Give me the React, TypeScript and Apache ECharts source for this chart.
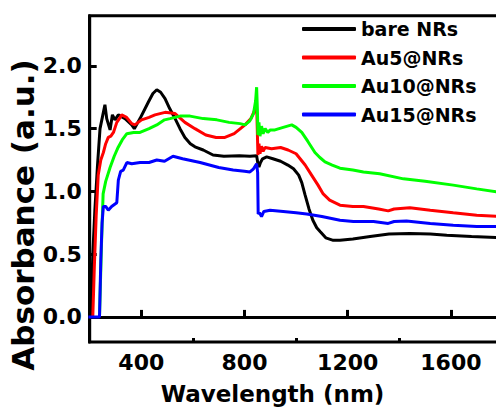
import React, { useEffect, useRef } from "react";
import * as echarts from "echarts";

const seriesNames = ["bare NRs", "Au5@NRs", "Au10@NRs", "Au15@NRs"];
const seriesColors = ["#000000", "#ff0000", "#00ff00", "#0000ff"];

const bareNRs: [number, number][] = [
  [205, 0.0], [212, 0.5], [220, 0.85], [230, 1.2], [240, 1.5], [250, 1.6], [259, 1.69], [266, 1.58],
  [279, 1.49], [288, 1.61], [298, 1.57], [311, 1.61], [337, 1.58], [363, 1.53], [373, 1.5], [395, 1.58],
  [427, 1.71], [445, 1.78], [460, 1.81], [475, 1.79], [492, 1.74], [510, 1.66], [531, 1.58], [550, 1.5],
  [569, 1.43], [590, 1.38], [608, 1.355], [640, 1.33], [678, 1.29], [720, 1.28], [780, 1.285], [821, 1.28],
  [847, 1.285], [852, 1.22], [856, 1.195], [862, 1.23], [870, 1.26], [886, 1.275], [910, 1.26], [940, 1.24],
  [968, 1.21], [990, 1.18], [1010, 1.13], [1022, 1.07], [1035, 0.97], [1050, 0.86], [1065, 0.77], [1080, 0.71],
  [1093, 0.68], [1115, 0.63], [1144, 0.61], [1170, 0.61], [1220, 0.62], [1287, 0.64], [1360, 0.66], [1441, 0.665],
  [1520, 0.66], [1584, 0.65], [1680, 0.64], [1800, 0.63],
];

const au5NRs: [number, number][] = [
  [212, 0.0], [218, 0.4], [225, 0.8], [233, 1.13], [243, 1.25], [253, 1.31], [262, 1.38], [272, 1.43],
  [282, 1.44], [292, 1.47], [305, 1.55], [315, 1.58], [324, 1.61], [343, 1.59], [363, 1.54], [375, 1.53],
  [401, 1.57], [430, 1.59], [453, 1.61], [492, 1.63], [531, 1.62], [569, 1.55], [608, 1.5], [650, 1.45],
  [690, 1.43], [724, 1.43], [760, 1.46], [802, 1.53], [825, 1.58], [840, 1.65], [848, 1.62], [852, 1.29],
  [856, 1.38], [860, 1.3], [866, 1.36], [872, 1.32], [880, 1.35], [905, 1.34], [940, 1.35], [969, 1.33],
  [1000, 1.3], [1035, 1.21], [1060, 1.13], [1085, 1.05], [1105, 0.98], [1130, 0.93], [1170, 0.89], [1220, 0.88],
  [1261, 0.88], [1320, 0.86], [1357, 0.845], [1380, 0.86], [1441, 0.87], [1520, 0.85], [1609, 0.83], [1700, 0.81],
  [1800, 0.8],
];

const au10NRs: [number, number][] = [
  [238, 0.0], [242, 0.3], [246, 0.6], [252, 0.98], [262, 1.08], [279, 1.19], [295, 1.28], [310, 1.35],
  [326, 1.41], [344, 1.46], [370, 1.47], [395, 1.47], [430, 1.5], [460, 1.53], [490, 1.57], [511, 1.58],
  [550, 1.6], [589, 1.6], [640, 1.58], [693, 1.57], [740, 1.55], [783, 1.54], [802, 1.53], [820, 1.56],
  [835, 1.62], [843, 1.72], [847, 1.83], [850, 1.65], [852, 1.45], [856, 1.55], [860, 1.44], [866, 1.52],
  [872, 1.46], [880, 1.5], [890, 1.47], [900, 1.49], [918, 1.49], [950, 1.51], [983, 1.53], [1000, 1.51],
  [1022, 1.47], [1045, 1.4], [1073, 1.31], [1092, 1.27], [1112, 1.235], [1140, 1.21], [1170, 1.185], [1220, 1.17],
  [1261, 1.155], [1324, 1.14], [1416, 1.1], [1500, 1.08], [1609, 1.05], [1700, 1.02], [1800, 0.99],
];

const au15NRs: [number, number][] = [
  [195, 0.0], [238, 0.0], [243, 0.45], [248, 0.75], [253, 0.88], [262, 0.88], [272, 0.85], [285, 0.88],
  [305, 0.91], [311, 1.09], [320, 1.16], [330, 1.17], [344, 1.23], [363, 1.22], [395, 1.23], [430, 1.23],
  [460, 1.25], [490, 1.24], [523, 1.28], [560, 1.26], [628, 1.23], [700, 1.19], [756, 1.17], [800, 1.16],
  [821, 1.155], [835, 1.18], [847, 1.22], [851, 1.15], [853, 0.82], [858, 0.83], [866, 0.8], [875, 0.84],
  [899, 0.85], [950, 0.84], [1000, 0.83], [1041, 0.82], [1100, 0.8], [1170, 0.77], [1222, 0.76], [1300, 0.76],
  [1357, 0.745], [1380, 0.76], [1428, 0.765], [1520, 0.745], [1609, 0.73], [1700, 0.72], [1800, 0.72],
];

const xMajorTicks = [400, 800, 1200, 1600];
const xMinorTicks = [600, 1000, 1400];
const yTicks = [0, 0.5, 1.0, 1.5, 2.0];

const xTitle = "Wavelength (nm)";
const yTitle = "Absorbance (a.u.)";

const FONT = "DejaVu Sans";

export default function App() {
  const ref = useRef<HTMLDivElement>(null);
  useEffect(() => {
    if (!ref.current) return;
    const chart = echarts.init(ref.current, null, { renderer: "svg" });
    const allData = [bareNRs, au5NRs, au10NRs, au15NRs];
    chart.setOption({
      animation: false,
      backgroundColor: "#ffffff",
      grid: {
        left: 89.7,
        right: 17.5,
        top: 15.7,
        bottom: 68,
        show: true,
        borderColor: "#000",
        borderWidth: 3,
        backgroundColor: "transparent",
      },
      legend: {
        data: seriesNames,
        orient: "vertical",
        left: 302,
        top: 19,
        padding: 0,
        itemWidth: 54,
        itemHeight: 4,
        itemGap: 8.5,
        icon: "roundRect",
        textStyle: {
          fontFamily: FONT,
          fontWeight: "bold",
          fontSize: 19,
          color: "#000",
          lineHeight: 20,
        },
      },
      xAxis: [
        {
          type: "value",
          min: 200,
          max: 1800,
          axisLine: { show: true, lineStyle: { color: "#000", width: 3 } },
          axisTick: {
            show: true,
            inside: true,
            length: 7,
            customValues: xMajorTicks,
            lineStyle: { color: "#000", width: 3 },
          },
          axisLabel: {
            customValues: xMajorTicks,
            formatter: (v: number) => String(v),
            margin: 9,
            fontFamily: FONT,
            fontWeight: "bold",
            fontSize: 22,
            color: "#000",
          },
          splitLine: { show: false },
        },
        {
          type: "value",
          min: 200,
          max: 1800,
          position: "bottom",
          axisLine: { show: false },
          axisTick: {
            show: true,
            inside: true,
            length: 4,
            customValues: xMinorTicks,
            lineStyle: { color: "#000", width: 3 },
          },
          axisLabel: { show: false },
          splitLine: { show: false },
        },
      ],
      yAxis: {
        type: "value",
        min: -0.2,
        max: 2.4,
        axisLine: { show: true, lineStyle: { color: "#000", width: 3 } },
        axisTick: {
          show: true,
          inside: true,
          length: 7,
          customValues: yTicks,
          lineStyle: { color: "#000", width: 3 },
        },
        axisLabel: {
          customValues: yTicks,
          margin: 8,
          formatter: (v: number) => v.toFixed(1),
          fontFamily: FONT,
          fontWeight: "bold",
          fontSize: 22,
          color: "#000",
        },
        splitLine: { show: false },
      },
      graphic: [
        {
          type: "text",
          x: 272.5,
          y: 394,
          style: {
            text: xTitle,
            fontFamily: FONT,
            fontWeight: "bold",
            fontSize: 23,
            fill: "#000",
            align: "center",
            verticalAlign: "middle",
          },
        },
        {
          type: "text",
          x: 22.5,
          y: 215,
          rotation: Math.PI / 2,
          style: {
            text: yTitle,
            fontFamily: FONT,
            fontWeight: "bold",
            fontSize: 31,
            fill: "#000",
            align: "center",
            verticalAlign: "middle",
          },
        },
      ],
      series: allData.map((d, i) => ({
        name: seriesNames[i],
        type: "line",
        xAxisIndex: 0,
        data: d,
        showSymbol: false,
        symbol: "none",
        color: seriesColors[i],
        lineStyle: { color: seriesColors[i], width: 3 },
      })),
    });
    return () => chart.dispose();
  }, []);
  return (
    <div
      style={{
        position: "fixed",
        left: 0,
        top: 0,
        width: 496,
        height: 410,
        overflow: "hidden",
        background: "#fff",
      }}
    >
      <div ref={ref} style={{ width: 520, height: 410 }} />
    </div>
  );
}
